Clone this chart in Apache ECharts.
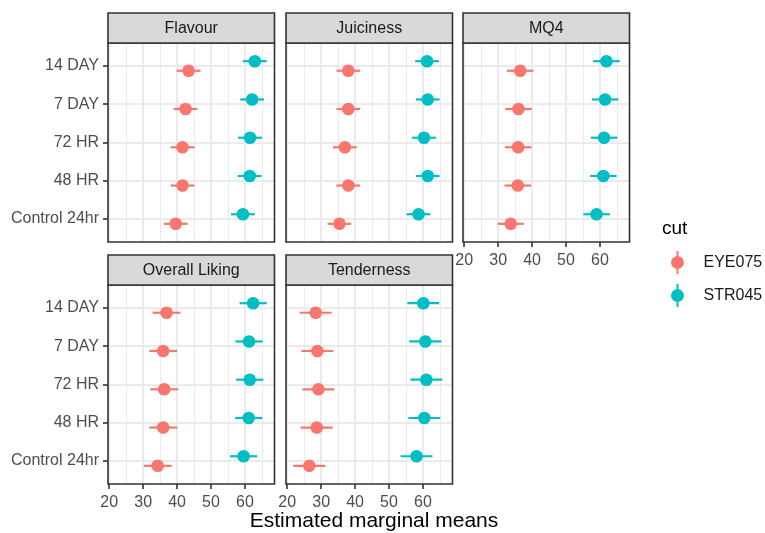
<!DOCTYPE html>
<html><head><meta charset="utf-8">
<script src="https://cdn.jsdelivr.net/npm/echarts@6/dist/echarts.min.js"></script>
<style>html,body{margin:0;padding:0;background:#fff}#c{width:765px;height:533px}</style>
</head><body><div id="c"></div>
<script>
// ---- data ----
const categories = ['Control 24hr', '48 HR', '72 HR', '7 DAY', '14 DAY'];
const panelNames = ['Flavour', 'Juiciness', 'MQ4', 'Overall Liking', 'Tenderness'];
const groupNames = ['EYE075', 'STR045'];
const xTicks = [20, 30, 40, 50, 60];
const xMinorTicks = [25, 35, 45, 55, 65];
const X_MIN = 19.65, X_MAX = 68.7;
// rows per category (Control 24hr, 48 HR, 72 HR, 7 DAY, 14 DAY): [mean, lower, upper]
const flavourEYE075 = [[39.6,36.1,43.1],[41.6,38.1,45.1],[41.6,38.1,45.1],[42.5,39.0,46.0],[43.4,39.9,46.9]];
const flavourSTR045 = [[59.4,55.9,62.9],[61.4,57.9,64.9],[61.5,58.0,65.0],[62.1,58.6,65.6],[62.9,59.4,66.4]];
const juicinessEYE075 = [[35.4,31.9,38.9],[38.0,34.5,41.5],[37.0,33.5,40.5],[38.0,34.5,41.5],[38.0,34.5,41.5]];
const juicinessSTR045 = [[58.7,55.2,62.2],[61.4,57.9,64.9],[60.3,56.8,63.8],[61.4,57.9,64.9],[61.2,57.7,64.7]];
const mq4EYE075 = [[33.7,29.8,37.6],[35.8,31.9,39.7],[35.9,32.0,39.8],[36.0,32.1,39.9],[36.5,32.6,40.4]];
const mq4STR045 = [[59.0,55.1,62.9],[61.0,57.1,64.9],[61.2,57.3,65.1],[61.5,57.6,65.4],[61.9,58.0,65.8]];
const overallEYE075 = [[34.3,30.2,38.4],[35.9,31.8,40.0],[36.2,32.1,40.3],[35.9,31.8,40.0],[36.9,32.8,41.0]];
const overallSTR045 = [[59.6,55.6,63.6],[61.1,57.1,65.1],[61.4,57.4,65.4],[61.2,57.2,65.2],[62.4,58.4,66.4]];
const tendernessEYE075 = [[26.5,21.8,31.2],[28.7,24.0,33.4],[29.2,24.5,33.9],[28.9,24.2,33.6],[28.4,23.7,33.1]];
const tendernessSTR045 = [[58.1,53.4,62.8],[60.4,55.7,65.1],[61.0,56.3,65.7],[60.7,56.0,65.4],[60.1,55.4,64.8]];

const panelData = [
  [flavourEYE075, flavourSTR045],
  [juicinessEYE075, juicinessSTR045],
  [mq4EYE075, mq4STR045],
  [overallEYE075, overallSTR045],
  [tendernessEYE075, tendernessSTR045]
];

// ---- styles / layout ----
const colors = ['#F8766D', '#00BFC4'];
const dodge = [-0.125, 0.125];
const FONT = 'Liberation Sans, Arial, sans-serif';
const PW = 166.5, PH = 199, STRIP_H = 30;
const layout = [
  {left: 108, top: 43, xLab: false, yLab: true},
  {left: 286, top: 43, xLab: false, yLab: false},
  {left: 463, top: 43, xLab: true,  yLab: false},
  {left: 108, top: 285, xLab: true, yLab: true},
  {left: 286, top: 285, xLab: true, yLab: false}
];
const hiddenTick = {show: false, length: 0, lineStyle: {color: 'rgba(0,0,0,0)', width: 0}};

const grids = [], xAxes = [], yAxes = [], series = [], graphics = [];
layout.forEach((L, i) => {
  grids.push({left: L.left, top: L.top, width: PW, height: PH, show: true,
    backgroundColor: '#fff', borderWidth: 0, borderColor: 'rgba(0,0,0,0)', containLabel: false, outerBoundsMode: 'none'});
  // main x axis
  xAxes.push({gridIndex: i, type: 'value', min: X_MIN, max: X_MAX, position: 'bottom',
    axisLine: {show: false},
    axisTick: L.xLab ? {show: true, customValues: xTicks, length: 5, lineStyle: {color: '#333333', width: 1.6}}
                     : Object.assign({customValues: xTicks}, hiddenTick),
    axisLabel: {show: L.xLab, customValues: xTicks, color: '#4D4D4D', fontSize: 16, fontFamily: FONT, margin: 10.5},
    splitLine: {show: true, lineStyle: {color: '#EBEBEB', width: 2}}
  });
  // minor grid x axis
  xAxes.push({gridIndex: i, type: 'value', min: X_MIN, max: X_MAX, position: 'top',
    axisLine: {show: false},
    axisTick: Object.assign({customValues: xMinorTicks}, hiddenTick),
    axisLabel: {show: false, customValues: xMinorTicks},
    splitLine: {show: true, lineStyle: {color: '#EBEBEB', width: 1.1}}
  });
  yAxes.push({gridIndex: i, type: 'value', min: 0.4, max: 5.6,
    axisLine: {show: false},
    axisTick: L.yLab ? {show: true, customValues: [1,2,3,4,5], length: 5, lineStyle: {color: '#333333', width: 1.6}}
                     : Object.assign({customValues: [1,2,3,4,5]}, hiddenTick),
    axisLabel: {show: L.yLab, customValues: [1,2,3,4,5], color: '#4D4D4D', fontSize: 16, fontFamily: FONT, margin: 9,
      padding: [3, 0, 0, 0],
      formatter: v => categories[Math.round(v) - 1]},
    splitLine: {show: true, lineStyle: {color: '#EBEBEB', width: 2}}
  });
  groupNames.forEach((g, gi) => {
    const rows = panelData[i][gi].map((r, ci) => [r[0], r[1], r[2], ci + 1]);
    series.push({
      type: 'custom', name: g, xAxisIndex: i * 2, yAxisIndex: i,
      itemStyle: {color: colors[gi]},
      encode: {x: [0, 1, 2], y: 3},
      data: rows,
      renderItem: (params, api) => {
        const c = api.value(3) + dodge[gi];
        const p = api.coord([api.value(0), c]);
        const pl = api.coord([api.value(1), c]);
        const ph = api.coord([api.value(2), c]);
        return {type: 'group', children: [
          {type: 'line', shape: {x1: pl[0], y1: pl[1], x2: ph[0], y2: ph[1]},
            style: {stroke: colors[gi], lineWidth: 2.2}},
          {type: 'circle', shape: {cx: p[0], cy: p[1], r: 6.3}, style: {fill: colors[gi]}}
        ]};
      }
    });
  });
  // panel border on top of grid lines
  graphics.push({type: 'rect', shape: {x: L.left, y: L.top, width: PW, height: PH},
    style: {fill: null, stroke: '#333333', lineWidth: 1.6}, z: 100});
  // strip
  graphics.push({type: 'rect', shape: {x: L.left, y: L.top - STRIP_H, width: PW, height: STRIP_H},
    style: {fill: '#D9D9D9', stroke: '#333333', lineWidth: 1.6}, z: 100});
  graphics.push({type: 'text', x: L.left + PW / 2, y: L.top - STRIP_H / 2 + 0.5,
    style: {text: panelNames[i], fill: '#1A1A1A', font: '16px ' + FONT, textAlign: 'center', textVerticalAlign: 'middle'}, z: 101});
});

graphics.push({type: 'text', x: 374, y: 521,
  style: {text: 'Estimated marginal means', fill: '#000', font: '21px ' + FONT, textAlign: 'center', textVerticalAlign: 'middle'}});
graphics.push({type: 'text', x: 662, y: 229,
  style: {text: 'cut', fill: '#000', font: '19px ' + FONT, textAlign: 'left', textVerticalAlign: 'middle'}});

const keyIcon = 'path://M6,0L8,0L8,6L6,6Z M6,17L8,17L8,23L6,23Z M0.5,11.5A6.5,6.5 0 1 1 13.5,11.5A6.5,6.5 0 1 1 0.5,11.5Z';

const chart = echarts.init(document.getElementById('c'), null, {renderer: 'canvas'});
chart.setOption({
  animation: false,
  backgroundColor: '#fff',
  grid: grids, xAxis: xAxes, yAxis: yAxes, series: series,
  legend: {
    orient: 'vertical', left: 671, top: 251, padding: 0, itemGap: 10,
    itemWidth: 42, itemHeight: 23, symbolKeepAspect: true,
    textStyle: {fontSize: 16, color: '#1A1A1A', fontFamily: FONT},
    data: groupNames.map((g, gi) => ({name: g, icon: keyIcon, itemStyle: {color: colors[gi]}}))
  },
  graphic: graphics
});
</script></body></html>
